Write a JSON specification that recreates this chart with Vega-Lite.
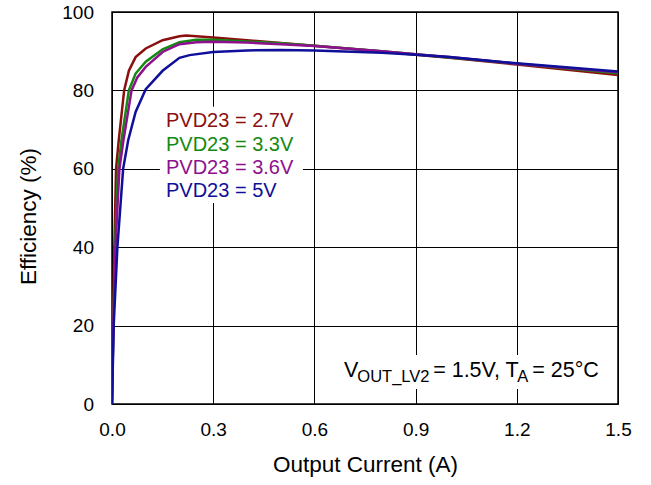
{
  "$schema": "https://vega.github.io/schema/vega-lite/v6.json",
  "width": 506,
  "height": 392,
  "autosize": {"type": "none"},
  "padding": {"left": 112, "top": 12, "right": 33, "bottom": 81},
  "background": "white",
  "config": {
    "font": "Liberation Sans",
    "view": {"stroke": "#000", "strokeWidth": 1.5},
    "axis": {
      "grid": true,
      "gridColor": "#000",
      "gridWidth": 1,
      "gridOpacity": 1,
      "domain": false,
      "ticks": false,
      "labelFlush": false,
      "labelBound": false,
      "labelOverlap": false,
      "labelFont": "Liberation Sans",
      "labelFontSize": 19,
      "labelColor": "#000",
      "titleFont": "Liberation Sans",
      "titleFontSize": 22.5,
      "titleFontWeight": "normal",
      "titleColor": "#000"
    }
  },
  "datasets": {
    "curves": [
      {"I": 0, "eff": 0, "s": "2.7V"}, {"I": 0.003, "eff": 20, "s": "2.7V"}, {"I": 0.007, "eff": 40, "s": "2.7V"}, {"I": 0.012, "eff": 60, "s": "2.7V"}, {"I": 0.02, "eff": 67.3, "s": "2.7V"}, {"I": 0.036, "eff": 80, "s": "2.7V"}, {"I": 0.05, "eff": 85, "s": "2.7V"}, {"I": 0.07, "eff": 88.5, "s": "2.7V"}, {"I": 0.1, "eff": 90.7, "s": "2.7V"}, {"I": 0.15, "eff": 92.8, "s": "2.7V"}, {"I": 0.2, "eff": 93.8, "s": "2.7V"}, {"I": 0.22, "eff": 94.0, "s": "2.7V"}, {"I": 0.3, "eff": 93.5, "s": "2.7V"}, {"I": 0.4, "eff": 92.8, "s": "2.7V"}, {"I": 0.5, "eff": 92.1, "s": "2.7V"}, {"I": 0.6, "eff": 91.4, "s": "2.7V"}, {"I": 0.8, "eff": 89.9, "s": "2.7V"}, {"I": 0.9, "eff": 89.1, "s": "2.7V"}, {"I": 1.0, "eff": 88.3, "s": "2.7V"}, {"I": 1.2, "eff": 86.6, "s": "2.7V"}, {"I": 1.5, "eff": 83.9, "s": "2.7V"},
      {"I": 0, "eff": 0, "s": "3.3V"}, {"I": 0.004, "eff": 20, "s": "3.3V"}, {"I": 0.009, "eff": 40, "s": "3.3V"}, {"I": 0.018, "eff": 60, "s": "3.3V"}, {"I": 0.028, "eff": 67.3, "s": "3.3V"}, {"I": 0.05, "eff": 80, "s": "3.3V"}, {"I": 0.07, "eff": 84.3, "s": "3.3V"}, {"I": 0.1, "eff": 87.3, "s": "3.3V"}, {"I": 0.15, "eff": 90.5, "s": "3.3V"}, {"I": 0.2, "eff": 92.3, "s": "3.3V"}, {"I": 0.25, "eff": 92.9, "s": "3.3V"}, {"I": 0.3, "eff": 92.9, "s": "3.3V"}, {"I": 0.4, "eff": 92.5, "s": "3.3V"}, {"I": 0.5, "eff": 92.0, "s": "3.3V"}, {"I": 0.6, "eff": 91.4, "s": "3.3V"}, {"I": 0.8, "eff": 90.0, "s": "3.3V"}, {"I": 0.9, "eff": 89.2, "s": "3.3V"}, {"I": 1.0, "eff": 88.4, "s": "3.3V"}, {"I": 1.2, "eff": 86.8, "s": "3.3V"}, {"I": 1.5, "eff": 84.4, "s": "3.3V"},
      {"I": 0, "eff": 0, "s": "3.6V"}, {"I": 0.004, "eff": 20, "s": "3.6V"}, {"I": 0.01, "eff": 40, "s": "3.6V"}, {"I": 0.022, "eff": 60, "s": "3.6V"}, {"I": 0.034, "eff": 67.3, "s": "3.6V"}, {"I": 0.058, "eff": 80, "s": "3.6V"}, {"I": 0.075, "eff": 83.3, "s": "3.6V"}, {"I": 0.1, "eff": 86.0, "s": "3.6V"}, {"I": 0.15, "eff": 89.8, "s": "3.6V"}, {"I": 0.2, "eff": 91.8, "s": "3.6V"}, {"I": 0.25, "eff": 92.3, "s": "3.6V"}, {"I": 0.3, "eff": 92.4, "s": "3.6V"}, {"I": 0.4, "eff": 92.2, "s": "3.6V"}, {"I": 0.5, "eff": 91.8, "s": "3.6V"}, {"I": 0.6, "eff": 91.3, "s": "3.6V"}, {"I": 0.8, "eff": 90.0, "s": "3.6V"}, {"I": 0.9, "eff": 89.2, "s": "3.6V"}, {"I": 1.0, "eff": 88.5, "s": "3.6V"}, {"I": 1.2, "eff": 86.8, "s": "3.6V"}, {"I": 1.5, "eff": 84.6, "s": "3.6V"},
      {"I": 0, "eff": 0, "s": "5V"}, {"I": 0.005, "eff": 20, "s": "5V"}, {"I": 0.016, "eff": 40, "s": "5V"}, {"I": 0.033, "eff": 60, "s": "5V"}, {"I": 0.048, "eff": 67.3, "s": "5V"}, {"I": 0.07, "eff": 74.5, "s": "5V"}, {"I": 0.1, "eff": 80.3, "s": "5V"}, {"I": 0.15, "eff": 85.0, "s": "5V"}, {"I": 0.2, "eff": 88.3, "s": "5V"}, {"I": 0.23, "eff": 89.0, "s": "5V"}, {"I": 0.3, "eff": 89.8, "s": "5V"}, {"I": 0.4, "eff": 90.2, "s": "5V"}, {"I": 0.5, "eff": 90.3, "s": "5V"}, {"I": 0.6, "eff": 90.2, "s": "5V"}, {"I": 0.8, "eff": 89.6, "s": "5V"}, {"I": 0.9, "eff": 89.1, "s": "5V"}, {"I": 1.0, "eff": 88.5, "s": "5V"}, {"I": 1.2, "eff": 86.9, "s": "5V"}, {"I": 1.5, "eff": 84.8, "s": "5V"}
    ],
    "boxes": [
      {"x1": 0.142, "x2": 0.566, "y1": 51.3, "y2": 75.8},
      {"x1": 0.62, "x2": 1.45, "y1": 3.8, "y2": 12.5}
    ],
    "legendText": [
      {"x": 0.16, "y": 70.6, "t": "PVD23 = 2.7V", "s": "2.7V"},
      {"x": 0.16, "y": 64.6, "t": "PVD23 = 3.3V", "s": "3.3V"},
      {"x": 0.16, "y": 58.7, "t": "PVD23 = 3.6V", "s": "3.6V"},
      {"x": 0.16, "y": 52.7, "t": "PVD23 = 5V", "s": "5V"}
    ],
    "annoMain": [
      {"x": 0.6878, "y": 6.96, "t": "V"},
      {"x": 0.952, "y": 6.96, "t": "= 1.5V, T"},
      {"x": 1.246, "y": 6.96, "t": "= 25°C"}
    ],
    "annoSub": [
      {"x": 0.7272, "y": 5.69, "t": "OUT_LV2"},
      {"x": 1.2015, "y": 5.69, "t": "A"}
    ]
  },
  "layer": [
    {
      "data": {"name": "boxes"},
      "mark": {"type": "rect", "fill": "white", "stroke": null},
      "encoding": {
        "x": {"field": "x1", "type": "quantitative", "scale": {"domain": [0, 1.5]}},
        "x2": {"field": "x2"},
        "y": {"field": "y1", "type": "quantitative", "scale": {"domain": [0, 100]}},
        "y2": {"field": "y2"}
      }
    },
    {
      "data": {"name": "curves"},
      "mark": {"type": "line", "strokeWidth": 2.5, "clip": true},
      "encoding": {
        "x": {
          "field": "I", "type": "quantitative",
          "scale": {"domain": [0, 1.5], "nice": false},
          "axis": {"values": [0, 0.3, 0.6, 0.9, 1.2, 1.5], "format": ".1f", "labelPadding": 16, "title": "Output Current (A)", "titleY": 60, "titleBaseline": "middle"}
        },
        "y": {
          "field": "eff", "type": "quantitative",
          "scale": {"domain": [0, 100], "nice": false},
          "axis": {"values": [0, 20, 40, 60, 80, 100], "labelPadding": 18.5, "title": "Efficiency (%)", "titleX": -84, "titleY": 204, "titleAngle": -90, "titleBaseline": "middle", "titleAlign": "center"}
        },
        "color": {
          "field": "s", "type": "nominal",
          "scale": {"domain": ["2.7V", "3.3V", "3.6V", "5V"], "range": ["#8b0f0f", "#128a12", "#8e108e", "#0f0f9a"]},
          "legend": null
        },
        "order": {"field": "I", "type": "quantitative"}
      }
    },
    {
      "data": {"name": "legendText"},
      "mark": {"type": "text", "align": "left", "baseline": "alphabetic", "fontSize": 20, "font": "Liberation Sans"},
      "encoding": {
        "x": {"field": "x", "type": "quantitative"},
        "y": {"field": "y", "type": "quantitative"},
        "text": {"field": "t"},
        "color": {"field": "s", "type": "nominal", "legend": null}
      }
    },
    {
      "data": {"name": "annoMain"},
      "mark": {"type": "text", "align": "left", "baseline": "alphabetic", "fontSize": 21.5, "font": "Liberation Sans", "color": "#000"},
      "encoding": {
        "x": {"field": "x", "type": "quantitative"},
        "y": {"field": "y", "type": "quantitative"},
        "text": {"field": "t"}
      }
    },
    {
      "data": {"name": "annoSub"},
      "mark": {"type": "text", "align": "left", "baseline": "alphabetic", "fontSize": 16.5, "font": "Liberation Sans", "color": "#000"},
      "encoding": {
        "x": {"field": "x", "type": "quantitative"},
        "y": {"field": "y", "type": "quantitative"},
        "text": {"field": "t"}
      }
    }
  ]
}
